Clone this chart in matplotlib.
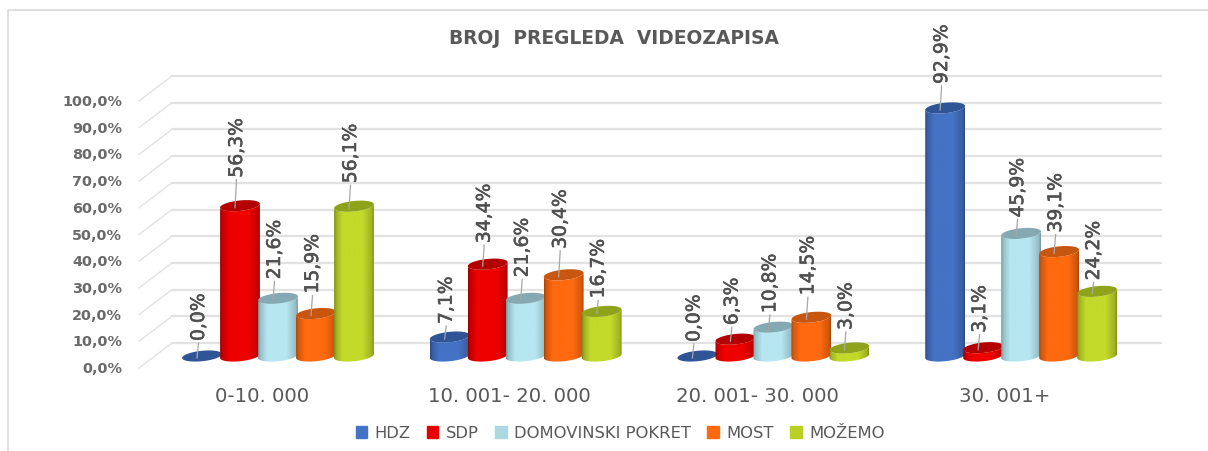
"""Broj pregleda videozapisa - pseudo-3D cylinder chart."""
import matplotlib
matplotlib.use("Agg")
import matplotlib.pyplot as plt
import matplotlib.patheffects as pe
from matplotlib.lines import Line2D
from matplotlib.patches import Patch, PathPatch
from matplotlib.path import Path
import numpy as np

# data
categories = ["0-10. 000", "10. 001- 20. 000", "20. 001- 30. 000", "30. 001+"]
parties = ["HDZ", "SDP", "DOMOVINSKI POKRET", "MOST", "MOŽEMO"]
hdz = [0.0, 7.1, 0.0, 92.9]
sdp = [56.3, 34.4, 6.3, 3.1]
domovinski = [21.6, 21.6, 10.8, 45.9]
most = [15.9, 30.4, 14.5, 39.1]
mozemo = [56.1, 16.7, 3.0, 24.2]
y_ticks = [0, 10, 20, 30, 40, 50, 60, 70, 80, 90, 100]

# colours
BODY_COLORS = ["#4472C4", "#EE0000", "#B6E6F0", "#FF6A10", "#C2DA2A"]
TOP_COLORS = ["#2F5597", "#B30000", "#85A9B3", "#C9560F", "#8FA31A"]
LEGEND_COLORS = ["#4472C4", "#E80000", "#ADD8E2", "#FF6A10", "#BBD025"]
TEXT_COLOR = "#595959"
GRID_COLOR = "#E2E2E2"

# scale of the picture, in pixels
W, H = 1208, 452
PX_PER_GROUP = 247.7
PX_PER_PCT = 2.67
GROUP0_PX = 278
WALL0_PX = 344
PX = 1 / PX_PER_GROUP   # one pixel in x data units
PY = 1 / PX_PER_PCT     # one pixel in y data units

BAR_STEP = 38 * PX
RX, RY = 20.0, 5.2      # ellipse half axes, px
TILT = np.radians(6)
BASE_DROP = 13 * PY     # bar base sits in front of the back wall
FRONT_DROP = 25 * PY    # floor depth
WALL_LEFT = (172 - GROUP0_PX) * PX
WALL_RIGHT = (1161 - GROUP0_PX) * PX
FRONT_LEFT = (139 - GROUP0_PX) * PX

# gap between bar top and its value label, px: one row per series
LABEL_LIFT = [
    [16, 14, 15, 25],
    [29, 22, 15, 16],
    [20, 22, 15, 17],
    [21, 27, 23, 20],
    [24, 14, 19, 12],
]


def ellipse_xy(cx, cy, t):
    """Points of a tilted ellipse, given centre in data units."""
    ex = RX * np.cos(t)
    ey = RY * np.sin(t)
    x = cx + (ex * np.cos(TILT) - ey * np.sin(TILT)) * PX
    y = cy + (ex * np.sin(TILT) + ey * np.cos(TILT)) * PY
    return x, y


def draw_cylinder(ax, cx, value, body, top, z):
    base = -BASE_DROP
    head = value - BASE_DROP
    if value > 0:
        t_low = np.linspace(np.pi, 2 * np.pi, 40)
        bx, by = ellipse_xy(cx, base, t_low)
        tx, ty = ellipse_xy(cx, head, t_low[::-1])
        verts = np.column_stack([np.r_[bx, tx], np.r_[by, ty]])
        clip = PathPatch(Path(np.vstack([verts, verts[0]]), closed=True),
                         fc="none", ec="none", transform=ax.transData)
        ax.add_patch(clip)
        # horizontal shading across the cylinder
        u = np.linspace(0, 1, 64)
        shade = np.interp(u, [0, 0.05, 0.22, 0.72, 0.95, 1],
                          [0.66, 0.82, 1, 1, 0.82, 0.66])
        rgb = np.array(matplotlib.colors.to_rgb(body))
        img = rgb[None, None, :] * shade[None, :, None]
        im = ax.imshow(img, extent=[cx - RX * PX, cx + RX * PX,
                                    base - 2 * RY * PY, head + 2 * RY * PY],
                       aspect="auto", interpolation="bilinear", zorder=z)
        im.set_clip_path(clip)
    ex, ey = ellipse_xy(cx, head, np.linspace(0, 2 * np.pi, 80))
    ax.fill(ex, ey, color=top, lw=0, zorder=z)


fig = plt.figure(figsize=(W / 100, H / 100), dpi=100, facecolor="white")
ax = fig.add_axes([0, 0, 1, 1])
ax.axis("off")
xlim = (-GROUP0_PX * PX, (W - GROUP0_PX) * PX)
ylim = ((WALL0_PX - H) * PY, WALL0_PX * PY)

# chart border: only left and top edges are inside the crop
ax.add_artist(Line2D([8 / W, 8 / W, 1], [0, 1 - 11 / H, 1 - 11 / H],
                     transform=ax.transAxes, color="#D9D9D9", lw=1.2))

# back wall grid and floor diagonals
for v in y_ticks:
    ax.plot([WALL_LEFT, WALL_RIGHT], [v, v], color=GRID_COLOR, lw=1.6, zorder=1)
    ax.plot([FRONT_LEFT, WALL_LEFT], [v - FRONT_DROP, v], color=GRID_COLOR, lw=1, zorder=1)
    ax.text(FRONT_LEFT - 17 * PX, v - FRONT_DROP, f"{v:.1f}%".replace(".", ","),
            ha="right", va="center", fontsize=10.4, fontweight="bold", color="#6A6A6A")

series = [hdz, sdp, domovinski, most, mozemo]
for g, name in enumerate(categories):
    for s, values in enumerate(series):
        cx = g + (s - 2) * BAR_STEP
        draw_cylinder(ax, cx, values[g], BODY_COLORS[s], TOP_COLORS[s], 3 + 0.1 * s)
        head = values[g] - BASE_DROP
        lx = cx - 3.5 * PX
        lift = LABEL_LIFT[s][g]
        ax.plot([cx - 5 * PX, lx], [head - 2 * PY, head + (lift - 3) * PY],
                color="#A6A6A6", lw=0.9, zorder=4)
        ax.text(lx, head + (lift - 1) * PY, f"{values[g]:.1f}%".replace(".", ","),
                rotation=90, ha="center", va="bottom", fontsize=13.5,
                color="#505050", zorder=5,
                path_effects=[pe.withStroke(linewidth=0.4, foreground="#505050")])
    ax.text(g - 16 * PX, -BASE_DROP - 40 * PY, name, ha="center", va="center",
            fontsize=14.2, color=TEXT_COLOR)

ax.text((614 - GROUP0_PX) * PX, (WALL0_PX - 38) * PY, "BROJ  PREGLEDA  VIDEOZAPISA",
        ha="center", va="center", fontsize=13.4, fontweight="bold", color=TEXT_COLOR)

handles = [Patch(color=c, label=p) for c, p in zip(LEGEND_COLORS, parties)]
ax.legend(handles=handles, ncols=5, loc="center", bbox_to_anchor=(620 / W, 1 - 434 / H),
          bbox_transform=ax.transAxes, frameon=False, fontsize=11.8, labelcolor=TEXT_COLOR,
          handlelength=0.7, handleheight=0.7, handletextpad=0.45, columnspacing=1.0,
          borderpad=0)

ax.set_xlim(*xlim)
ax.set_ylim(*ylim)
fig.savefig("out.png", dpi=100)
